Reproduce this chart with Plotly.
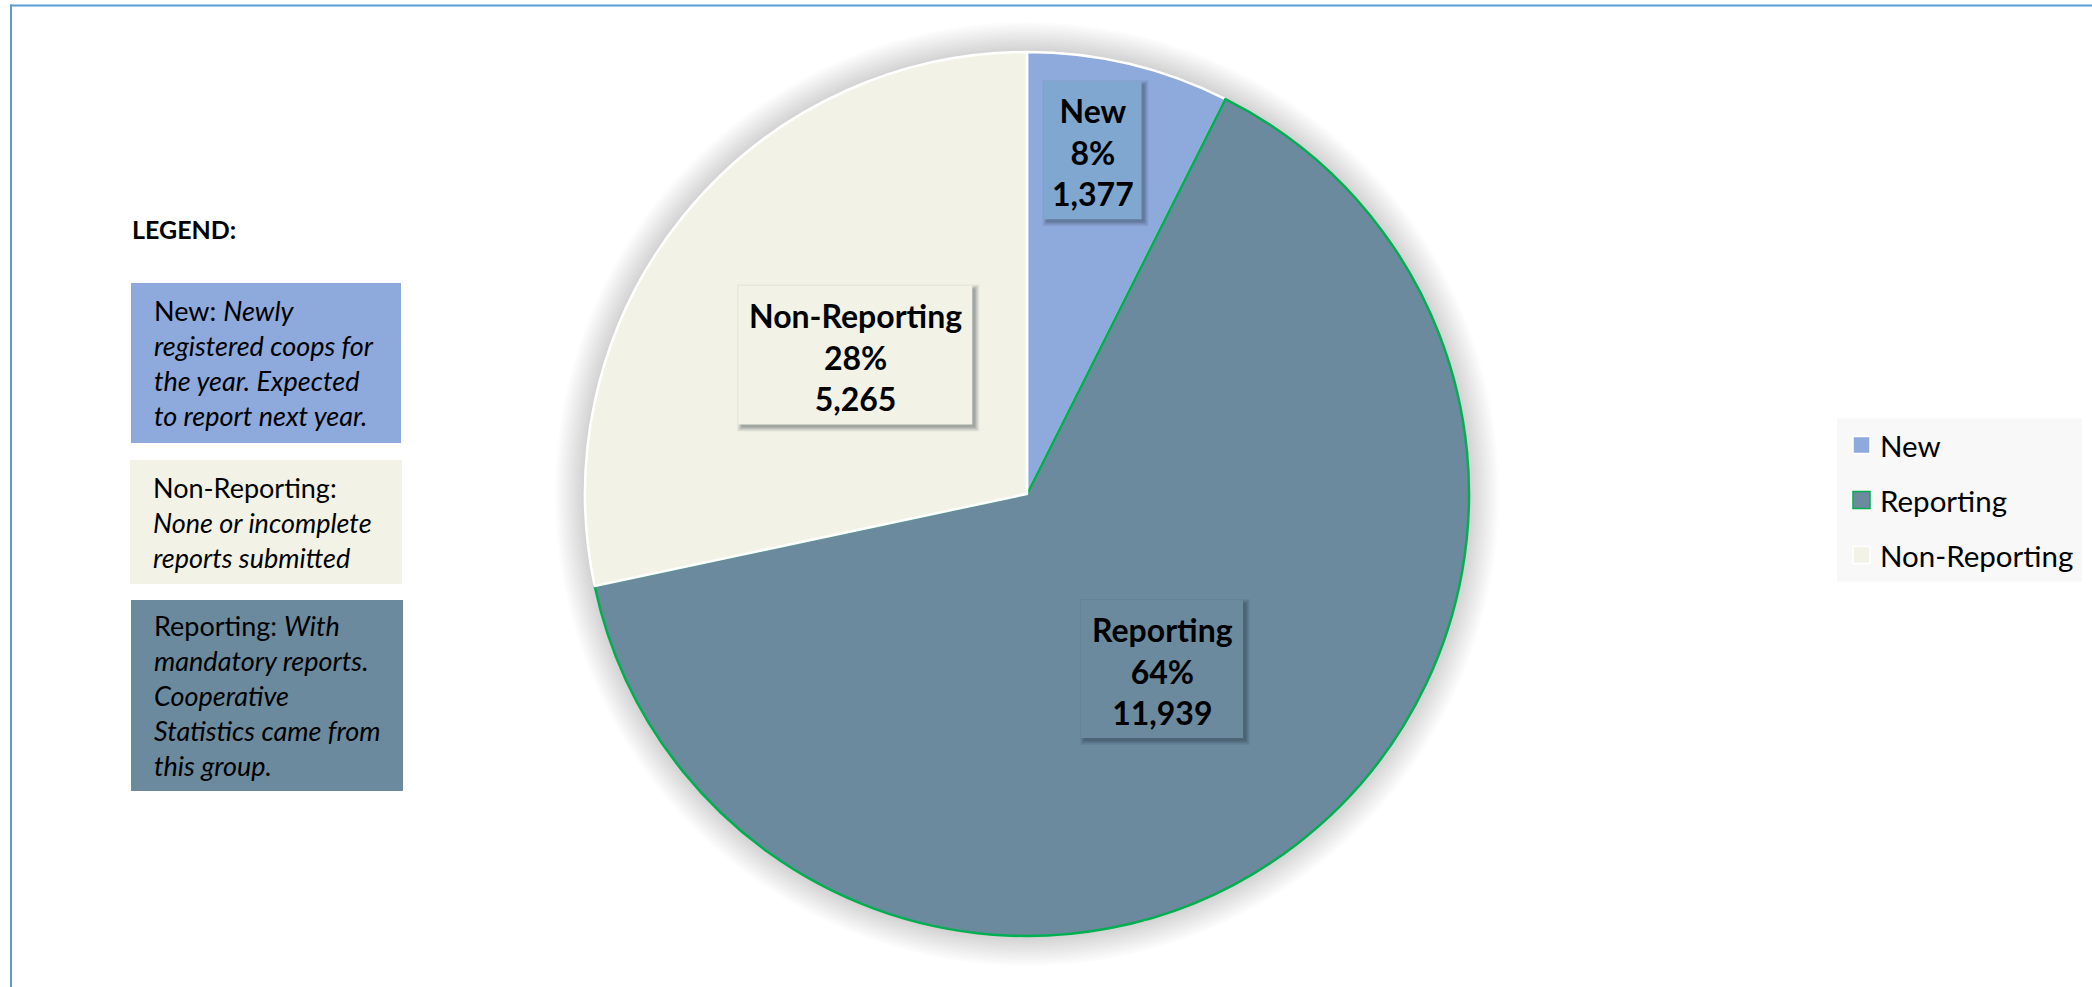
import math
import plotly.graph_objects as go

# ---- data -------------------------------------------------------------
categories = ["New", "Reporting", "Non-Reporting"]
counts = [1377, 11939, 5265]
pct_labels = ["8%", "64%", "28%"]

# ---- styling ----------------------------------------------------------
slice_colors = ["#8EA9DB", "#6B8A9E", "#F2F3E6"]
label_box_colors = ["#80A7CF", "#6B8A9E", "#F2F3E6"]
edge_colors = ["#FFFFFF", "#00B050", "#FFFFFF"]
legend_edge_colors = ["#FFFFFF", "#00B050", "#FFFFFF"]

# explanatory notes shown in the panel on the left (in display order)
note_order = ["New", "Non-Reporting", "Reporting"]
note_texts = {
    "New": "New: <i>Newly</i><br><i>registered coops for</i><br>"
           "<i>the year. Expected</i><br><i>to report next year.</i>",
    "Non-Reporting": "Non-Reporting:<br><i>None or incomplete</i><br>"
                     "<i>reports submitted</i>",
    "Reporting": "Reporting: <i>With</i><br><i>mandatory reports.</i><br>"
                 "<i>Cooperative</i><br><i>Statistics came from</i><br>"
                 "<i>this group.</i>",
}

W, H = 2092, 987
FONT = "Lato"

# pie geometry in pixels
CX, CY, R = 1027, 494, 442

# data-label box layout: radial position (fraction of radius), nudge, size
label_radius = [0.79, 0.5, 0.5]
label_nudge = [(-15, -4), (0, 0), (0, 0)]
label_size = [(98, 138), (162, 138), (234, 139)]


def px(x):
    return x / W


def py(y):
    return 1 - y / H


fig = go.Figure()

fig.add_trace(go.Pie(
    labels=categories,
    values=counts,
    sort=False,
    direction="clockwise",
    rotation=0,
    textinfo="none",
    hoverinfo="label+value+percent",
    showlegend=False,
    marker=dict(colors=slice_colors,
                line=dict(color=edge_colors, width=[2.5, 2.5, 2.5])),
    domain=dict(x=[px(CX - R), px(CX + R)], y=[py(CY + R), py(CY - R)]),
))

shapes = []
annotations = []

# soft glow behind the pie
for k in range(1, 16):
    rr = R + 2.0 * k
    shapes.append(dict(
        type="circle", xref="paper", yref="paper", layer="below",
        x0=px(CX - rr), x1=px(CX + rr), y0=py(CY + rr), y1=py(CY - rr),
        fillcolor="rgba(0,0,0,0.011)", line=dict(width=0),
    ))

# data labels in boxes, placed along each slice's mid-angle
total = sum(counts)
cum = 0
for i, (cat, val, pct) in enumerate(zip(categories, counts, pct_labels)):
    mid = (cum + val / 2) / total
    cum += val
    ang = 2 * math.pi * mid
    f = label_radius[i]
    lx = CX + f * R * math.sin(ang) + label_nudge[i][0]
    ly = CY - f * R * math.cos(ang) + label_nudge[i][1]
    bw, bh = label_size[i]
    x0, x1 = lx - bw / 2, lx + bw / 2
    y0, y1 = ly - bh / 2, ly + bh / 2
    # soft drop shadow
    for off, grow, alpha in [(3, 4, 0.06), (3, 3, 0.07), (3, 2, 0.08),
                             (3, 1, 0.10), (3, 0, 0.12)]:
        shapes.append(dict(
            type="rect", xref="paper", yref="paper", layer="above",
            x0=px(x0 + off - grow), x1=px(x1 + off + grow),
            y0=py(y1 + off + grow), y1=py(y0 + off - grow),
            fillcolor=f"rgba(30,40,50,{alpha})", line=dict(width=0),
        ))
    shapes.append(dict(
        type="rect", xref="paper", yref="paper", layer="above",
        x0=px(x0), x1=px(x1), y0=py(y1), y1=py(y0),
        fillcolor=label_box_colors[i], line=dict(width=0),
    ))
    annotations.append(dict(
        xref="paper", yref="paper", x=px(lx), y=py(ly + 2),
        xanchor="center", yanchor="middle", showarrow=False, align="center",
        text=f"{cat}<br>{pct}<br>{val:,}",
        font=dict(family=FONT, size=32, color="#000000", weight="bold"),
    ))

# left explanatory panel
annotations.append(dict(
    xref="paper", yref="paper", x=px(130), y=py(229),
    xanchor="left", yanchor="middle", showarrow=False,
    text="LEGEND:",
    font=dict(family=FONT, size=25, color="#000000", weight="bold"),
))
note_boxes = {"New": (131, 283, 401, 443),
              "Non-Reporting": (130, 460, 402, 584),
              "Reporting": (131, 600, 403, 791)}
for name in note_order:
    bx0, by0, bx1, by1 = note_boxes[name]
    shapes.append(dict(
        type="rect", xref="paper", yref="paper", layer="below",
        x0=px(bx0), x1=px(bx1), y0=py(by1), y1=py(by0),
        fillcolor=slice_colors[categories.index(name)], line=dict(width=0),
    ))
    annotations.append(dict(
        xref="paper", yref="paper", x=px(bx0 + 21), y=py((by0 + by1) / 2),
        xanchor="left", yanchor="middle", showarrow=False, align="left",
        text=note_texts[name],
        font=dict(family=FONT, size=27, color="#000000"),
    ))

# series legend on the right
shapes.append(dict(
    type="rect", xref="paper", yref="paper", layer="below",
    x0=px(1837), x1=px(2082), y0=py(582), y1=py(418),
    fillcolor="#F8F8F8", line=dict(width=0),
))
for i, cat in enumerate(categories):
    cy = 445 + 55 * i
    shapes.append(dict(
        type="rect", xref="paper", yref="paper", layer="above",
        x0=px(1853), x1=px(1870), y0=py(cy + 8.5), y1=py(cy - 8.5),
        fillcolor=slice_colors[i],
        line=dict(color=legend_edge_colors[i], width=1.5),
    ))
    annotations.append(dict(
        xref="paper", yref="paper", x=px(1878), y=py(cy),
        xanchor="left", yanchor="middle", showarrow=False,
        text=cat,
        font=dict(family=FONT, size=29.5, color="#000000"),
    ))

# frame lines along the top and left edges
shapes.append(dict(type="line", xref="paper", yref="paper", layer="above",
                   x0=px(10), x1=1, y0=py(5.5), y1=py(5.5),
                   line=dict(color="#5B9BD5", width=2)))
shapes.append(dict(type="line", xref="paper", yref="paper", layer="above",
                   x0=px(11), x1=px(11), y0=py(4.5), y1=0,
                   line=dict(color="#5B9BD5", width=2)))

fig.update_layout(
    width=W, height=H,
    margin=dict(l=0, r=0, t=0, b=0),
    paper_bgcolor="#FFFFFF",
    plot_bgcolor="#FFFFFF",
    shapes=shapes,
    annotations=annotations,
    showlegend=False,
)

fig.write_html("out.html")
